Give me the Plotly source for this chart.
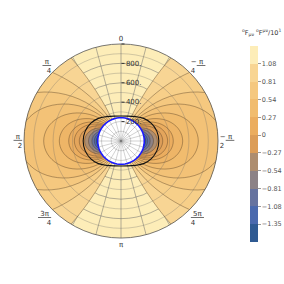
import numpy as np
import plotly.graph_objects as go
from plotly.colors import sample_colorscale

# ---- colour bands (bottom -> top) ----
BAND_EDGES = [-1.62, -1.35, -1.08, -0.81, -0.54, -0.27, 0.0, 0.27, 0.54, 0.81, 1.08, 1.35]
BAND_COLORS = ["#2f5a92", "#4a69ad", "#66739f", "#8c8286", "#ad8d6f", "#dc9d58",
               "#ebad5f", "#f1bc6e", "#f5c87f", "#f8d593", "#fdedb8"]
CB_TICKVALS = [1.08, 0.81, 0.54, 0.27, 0.0, -0.27, -0.54, -0.81, -1.08, -1.35]
CB_TICKTEXT = ["1.08", "0.81", "0.54", "0.27", "0", "\u22120.27", "\u22120.54",
               "\u22120.81", "\u22121.08", "\u22121.35"]

# ---- contour levels and their equatorial radius ----
LEVELS = [1.08, 0.945, 0.81, 0.675, 0.54, 0.405, 0.27, 0.135, 0.0, -0.27, -0.54, -0.81, -1.08, -1.35]
R_EQ = [5714, 2278, 1391, 1050, 797, 636, 539, 481, 430, 375, 335, 300, 275, 255]

# lobe profile (relative radius vs. polar angle from the pole)
PROFILE_THETA = [19.3, 22, 25, 28, 31, 35, 40, 45, 50, 55, 60, 65, 70, 75, 80, 85, 90]
PROFILE_S = [0, 0.035, 0.078, 0.125, 0.175, 0.247, 0.341, 0.439, 0.536, 0.631,
             0.719, 0.800, 0.869, 0.925, 0.966, 0.991, 1.0]

R_HORIZON = 240
ERGO_THETA = [0, 15, 30, 45, 60, 75, 90]
ERGO_R = [258, 266, 290, 330, 362, 383, 390]

RAD_TICKS = [200, 400, 600, 800, 1000]
RAD_TEXT = ["200.", "400.", "600.", "800.", ""]
MINOR_RINGS = [100, 200, 300, 500, 700, 900]
ANG_TICKS = list(range(0, 360, 15))


def frac(num, den, pre=""):
    return (pre + '<span style="text-decoration:underline">\u00a0' + num +
            '\u00a0</span><br>' + den)


ANG_LABELS_MAIN = {0: "0", 45: frac("\u03c0", "4"), 90: frac("\u03c0", "2"),
                   135: frac("3\u03c0", "4"), 180: "\u03c0", 225: frac("5\u03c0", "4"),
                   270: frac("\u03c0", "2", "\u2212"), 315: frac("\u03c0", "4", "\u2212")}
ANG_TEXT = [ANG_LABELS_MAIN.get(a, "") for a in ANG_TICKS]
CB_TITLE = "<sup>o</sup>F<sub>\u03bc\u03bd</sub> <sup>o</sup>F<sup>\u03bc\u03bd</sup>/10<sup>1</sup>"
GRID = "rgba(105,105,105,0.5)"

# continuous scale for fills, discrete for colour bar
centers = [(BAND_EDGES[i] + BAND_EDGES[i + 1]) / 2 for i in range(len(BAND_COLORS))]
lo, hi = BAND_EDGES[0], BAND_EDGES[-1]
cont_scale = ([[0.0, BAND_COLORS[0]]] +
              [[(c - lo) / (hi - lo), col] for c, col in zip(centers, BAND_COLORS)] +
              [[1.0, BAND_COLORS[-1]]])
disc_scale = []
for i, col in enumerate(BAND_COLORS):
    disc_scale.append([(BAND_EDGES[i] - lo) / (hi - lo), col])
    disc_scale.append([(BAND_EDGES[i + 1] - lo) / (hi - lo), col])

fig = go.Figure()

# colour bar carrier
fig.add_trace(go.Scatterpolar(
    r=[0], theta=[0], mode="markers",
    marker=dict(size=0.1, opacity=0, color=[0], colorscale=disc_scale, cmin=lo, cmax=hi,
                showscale=True,
                colorbar=dict(thickness=8, len=196 / 284, lenmode="fraction", y=1 - 144 / 284,
                              yanchor="middle", x=250 / 284, xanchor="left", xpad=0, ypad=0,
                              outlinewidth=0, tickvals=CB_TICKVALS, ticktext=CB_TICKTEXT,
                              ticks="outside", ticklen=3, tickcolor="#999",
                              tickfont=dict(size=6.5, color="#555", family="DejaVu Sans"))),
    showlegend=False, hoverinfo="skip"))

half_t = PROFILE_THETA + [180 - t for t in PROFILE_THETA[-2::-1]]
half_s = PROFILE_S + PROFILE_S[-2::-1]
for lev, R in zip(LEVELS, R_EQ):
    col = sample_colorscale(cont_scale, [(lev - 0.13 - lo) / (hi - lo)])[0]
    rr = [R * s for s in half_s]
    th = half_t + [None] + [t + 180 for t in half_t]
    r_all = rr + [None] + rr
    fig.add_trace(go.Scatterpolar(r=r_all, theta=th, mode="lines", fill="toself",
                                  fillcolor=col,
                                  line=dict(color="rgba(70,50,30,0.55)", width=0.7, shape="spline"),
                                  showlegend=False, hoverinfo="skip"))

# horizon
circ_t = list(range(0, 361, 5))
fig.add_trace(go.Scatterpolar(r=[R_HORIZON] * len(circ_t), theta=circ_t, mode="lines", fill="toself",
                              fillcolor="white", line=dict(color="rgba(0,0,0,0)", width=0),
                              showlegend=False, hoverinfo="skip"))
# grid rings (unlabeled + inside horizon)
for rv in MINOR_RINGS:
    fig.add_trace(go.Scatterpolar(r=[rv] * len(circ_t), theta=circ_t, mode="lines",
                                  line=dict(color=GRID, width=0.6),
                                  showlegend=False, hoverinfo="skip"))
# spokes inside the horizon disk
sp_r, sp_t = [], []
for a in ANG_TICKS:
    sp_r += [0, R_HORIZON, None]
    sp_t += [a, a, None]
fig.add_trace(go.Scatterpolar(r=sp_r, theta=sp_t, mode="lines",
                              line=dict(color=GRID, width=0.6),
                              showlegend=False, hoverinfo="skip"))
# horizon outline
fig.add_trace(go.Scatterpolar(r=[R_HORIZON] * len(circ_t), theta=circ_t, mode="lines",
                              line=dict(color="#1a1aff", width=1.6),
                              showlegend=False, hoverinfo="skip"))
# ergosphere
et = ERGO_THETA + [180 - t for t in ERGO_THETA[-2::-1]]
er = ERGO_R + ERGO_R[-2::-1]
et_full = et + [t + 180 for t in et[1:]]
er_full = er + er[1:]
fig.add_trace(go.Scatterpolar(r=er_full, theta=et_full, mode="lines",
                              line=dict(color="#111", width=1.1, shape="spline"),
                              showlegend=False, hoverinfo="skip"))

fig.update_layout(
    width=284, height=284, margin=dict(l=0, r=0, t=0, b=0, autoexpand=False),
    paper_bgcolor="white",
    font=dict(family="DejaVu Sans", size=7, color="#333"),
    annotations=[dict(text=CB_TITLE, x=240 / 284, y=1 - 33 / 284, xref="paper", yref="paper",
                      xanchor="left", yanchor="middle", showarrow=False,
                      font=dict(size=6.5, color="#333", family="DejaVu Sans"))],
    polar=dict(
        domain=dict(x=[24 / 284, 218 / 284], y=[1 - 238 / 284, 1 - 44 / 284]),
        bgcolor="#fdedb8",
        radialaxis=dict(range=[0, 1000], tickvals=RAD_TICKS, ticktext=RAD_TEXT, angle=90,
                        side="clockwise", showline=False, ticks="outside", ticklen=3,
                        tickcolor="#333", tickangle=90,
                        gridcolor=GRID, gridwidth=0.6,
                        tickfont=dict(size=7, color="#333"), layer="above traces"),
        angularaxis=dict(rotation=90, direction="counterclockwise", tickvals=ANG_TICKS,
                         ticktext=ANG_TEXT, ticks="", showline=True, linecolor="#555",
                         linewidth=0.8, gridcolor=GRID, gridwidth=0.6,
                         tickfont=dict(size=7, color="#333"), layer="above traces"),
    ),
)
fig.write_html("out.html", config={"displayModeBar": False},
               post_script="document.body.style.margin='0';document.body.style.overflow='hidden';")
